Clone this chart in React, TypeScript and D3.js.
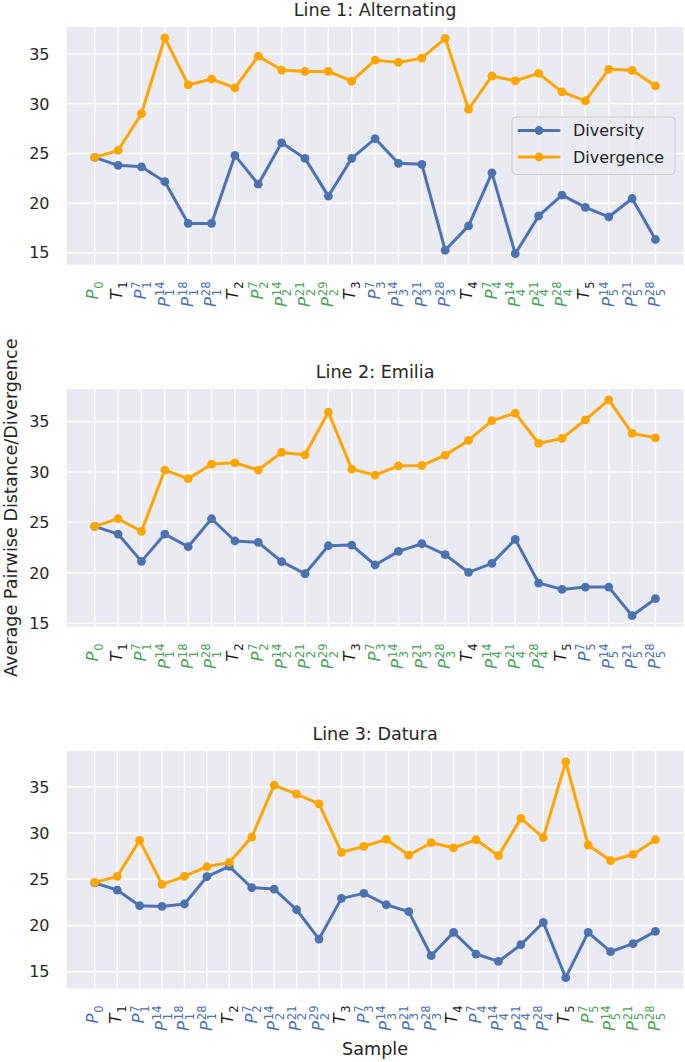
import React from 'react';
import * as d3 from 'd3';

const panelTitles = ['Line 1: Alternating', 'Line 2: Emilia', 'Line 3: Datura'];
const seriesNames = ['Diversity', 'Divergence'];
const yTicks = [15, 20, 25, 30, 35];

const samples1 = ['P0','T1','P7_1','P14_1','P18_1','P28_1','T2','P7_2','P14_2','P21_2','P29_2','T3','P7_3','P14_3','P21_3','P28_3','T4','P7_4','P14_4','P21_4','P28_4','T5','P14_5','P21_5','P28_5'];
const diversity1 = [24.6,23.8,23.65,22.15,17.95,17.95,24.8,21.9,26.07,24.5,20.7,24.5,26.5,24.0,23.9,15.25,17.7,23.05,14.9,18.7,20.8,19.56,18.6,20.46,16.33];
const divergence1 = [24.6,25.3,29.0,36.65,31.9,32.5,31.6,34.8,33.4,33.26,33.26,32.29,34.4,34.17,34.6,36.6,29.43,32.8,32.32,33.06,31.2,30.3,33.47,33.37,31.8];

const samples2 = ['P0','T1','P7_1','P14_1','P18_1','P28_1','T2','P7_2','P14_2','P21_2','P29_2','T3','P7_3','P14_3','P21_3','P28_3','T4','P14_4','P21_4','P28_4','T5','P7_5','P14_5','P21_5','P28_5'];
const diversity2 = [24.6,23.84,21.13,23.84,22.58,25.36,23.15,23.02,21.1,19.9,22.68,22.75,20.77,22.12,22.88,21.79,20.04,20.93,23.31,18.98,18.35,18.58,18.58,15.74,17.43];
const divergence2 = [24.6,25.36,24.1,30.19,29.33,30.78,30.91,30.19,31.94,31.7,35.94,30.29,29.69,30.61,30.64,31.67,33.13,35.09,35.84,32.83,33.33,35.17,37.16,33.83,33.39];

const samples3 = ['P0','T1','P7_1','P14_1','P18_1','P28_1','T2','P7_2','P14_2','P21_2','P29_2','T3','P7_3','P14_3','P21_3','P28_3','T4','P7_4','P14_4','P21_4','P28_4','T5','P7_5','P14_5','P21_5','P28_5'];
const diversity3 = [24.6,23.83,22.14,22.06,22.32,25.27,26.39,24.08,23.94,21.7,18.53,22.93,23.47,22.24,21.49,16.73,19.25,16.91,16.11,17.92,20.33,14.35,19.25,17.16,18.03,19.36];
const divergence3 = [24.66,25.3,29.2,24.44,25.3,26.35,26.82,29.56,35.18,34.2,33.16,27.9,28.55,29.3,27.6,28.95,28.4,29.27,27.54,31.58,29.49,37.7,28.7,27.0,27.68,29.27];

// label colour groups per panel (key = line/passage index after "_", 0 for P0)
const GREEN = '#4aa35a';
const BLUE = '#4C72B0';
const BLACK = '#1a1a1a';
const labelColors1: Record<string, string> = { '0': GREEN, '1': BLUE, '2': GREEN, '3': BLUE, '4': GREEN, '5': BLUE };
const labelColors2: Record<string, string> = { '0': GREEN, '1': GREEN, '2': GREEN, '3': GREEN, '4': GREEN, '5': BLUE };
const labelColors3: Record<string, string> = { '0': BLUE, '1': BLUE, '2': BLUE, '3': BLUE, '4': BLUE, '5': GREEN };

const panels = [
  { title: panelTitles[0], samples: samples1, div: diversity1, dvg: divergence1, colors: labelColors1, legend: true },
  { title: panelTitles[1], samples: samples2, div: diversity2, dvg: divergence2, colors: labelColors2, legend: false },
  { title: panelTitles[2], samples: samples3, div: diversity3, dvg: divergence3, colors: labelColors3, legend: false },
];

const W = 685, H = 1062;
const LEFT = 66.7, RIGHT = 683.5;
const TOPS = [27, 389, 751];
const PH = 237.5;
const FONT = '"DejaVu Sans", Verdana, sans-serif';
const TEXT = '#262626';
const LINE_COLORS = ['#4C72B0', '#FFA500'];
const TICK_FS = 16;
const XTICK_FS = 16.5;

let _ctx: CanvasRenderingContext2D | null = null;
function measure(text: string, size: number, italic = false): number {
  if (!_ctx) {
    const c = document.createElement('canvas');
    _ctx = c.getContext('2d');
  }
  if (!_ctx) return text.length * size * 0.6;
  _ctx.font = `${italic ? 'italic ' : ''}${size}px "DejaVu Sans"`;
  return _ctx.measureText(text).width;
}

function parseLabel(s: string) {
  const main = s[0];
  const rest = s.slice(1);
  if (rest.includes('_')) {
    const [sup, sub] = rest.split('_');
    return { main, sup, sub };
  }
  return { main, sup: '', sub: rest };
}

function TickLabel({ label, x, y, colors }: { label: string; x: number; y: number; colors: Record<string, string> }) {
  const { main, sup, sub } = parseLabel(label);
  const f = XTICK_FS;
  const sf = f * 0.7;
  const color = main === 'T' ? BLACK : colors[sub] ?? BLACK;
  const wMain = measure(main, f, true) + 0.8;
  const wScript = Math.max(measure(sup, sf), measure(sub, sf));
  const total = wMain + wScript;
  const supShift = 0.36 * f;
  const subShift = sup ? 0.28 * f : 0.3 * f;
  const top = sup ? -(supShift + sf * 0.729) : -(f * 0.729);
  const bottom = subShift;
  const b = -(top + bottom) / 2;
  const x0 = -total;
  return (
    <g transform={`translate(${x},${y}) rotate(-90)`} fill={color} fontFamily={FONT}>
      <text x={x0} y={b} fontSize={f} fontStyle="italic">{main}</text>
      {sup && <text x={x0 + wMain} y={b - supShift} fontSize={sf}>{sup}</text>}
      <text x={x0 + wMain} y={b + subShift} fontSize={sf}>{sub}</text>
    </g>
  );
}

function Panel({ p, top }: { p: typeof panels[number]; top: number }) {
  const n = p.samples.length;
  const x = d3.scaleLinear().domain([-0.05 * (n - 1), (n - 1) * 1.05]).range([LEFT, RIGHT]);
  const all = [...p.div, ...p.dvg];
  const mn = d3.min(all) as number, mx = d3.max(all) as number;
  const pad = (mx - mn) * 0.05;
  const y = d3.scaleLinear().domain([mn - pad, mx + pad]).range([top + PH, top]);
  const line = d3.line<number>().x((_, i) => x(i)).y((d) => y(d));
  const series = [p.div, p.dvg];
  return (
    <g>
      <rect x={LEFT} y={top} width={RIGHT - LEFT} height={PH} fill="#EAEAF2" />
      {p.samples.map((_, i) => (
        <line key={'gx' + i} x1={x(i)} x2={x(i)} y1={top} y2={top + PH} stroke="#fff" strokeWidth={1.4} />
      ))}
      {yTicks.map((t) => (
        <line key={'gy' + t} x1={LEFT} x2={RIGHT} y1={y(t)} y2={y(t)} stroke="#fff" strokeWidth={1.4} />
      ))}
      {yTicks.map((t) => (
        <text key={'ty' + t} x={49.5} y={y(t)} dy="0.36em" textAnchor="end" fontSize={TICK_FS} fontFamily={FONT} fill={TEXT}>{t}</text>
      ))}
      {p.samples.map((s, i) => (
        <TickLabel key={'tx' + i} label={s} x={x(i)} y={top + PH + 17} colors={p.colors} />
      ))}
      {series.map((vals, k) => (
        <g key={'s' + k}>
          <path d={line(vals) || ''} fill="none" stroke={LINE_COLORS[k]} strokeWidth={3} strokeLinejoin="round" strokeLinecap="round" />
          {vals.map((v, i) => (
            <circle key={i} cx={x(i)} cy={y(v)} r={4.4} fill={LINE_COLORS[k]} />
          ))}
        </g>
      ))}
      <text x={(LEFT + RIGHT) / 2} y={top - 11} textAnchor="middle" fontSize={17.6} fontFamily={FONT} fill={TEXT}>{p.title}</text>
      {p.legend && (
        <g>
          <rect x={512} y={117} width={163} height={57.5} rx={4} fill="#EAEAF2" fillOpacity={0.8} stroke="#cccccc" strokeWidth={1} />
          {seriesNames.map((name, k) => {
            const cy = 130.5 + k * 26.5;
            return (
              <g key={name}>
                <line x1={519} x2={559} y1={cy} y2={cy} stroke={LINE_COLORS[k]} strokeWidth={3} strokeLinecap="round" />
                <circle cx={539} cy={cy} r={4.4} fill={LINE_COLORS[k]} />
                <text x={573} y={cy} dy="0.36em" fontSize={16} fontFamily={FONT} fill={TEXT}>{name}</text>
              </g>
            );
          })}
        </g>
      )}
    </g>
  );
}

export default function App() {
  return (
    <svg width={W} height={H} viewBox={`0 0 ${W} ${H}`} style={{ position: 'absolute', left: 0, top: 0, background: '#fff' }}>
      <rect x={0} y={0} width={W} height={H} fill="#fff" />
      {panels.map((p, i) => (
        <Panel key={i} p={p} top={TOPS[i]} />
      ))}
      <text transform={`translate(17,${TOPS[1] + PH / 2}) rotate(-90)`} textAnchor="middle" fontSize={17.6} fontFamily={FONT} fill={TEXT}>Average Pairwise Distance/Divergence</text>
      <text x={(LEFT + RIGHT) / 2} y={1055} textAnchor="middle" fontSize={17.6} fontFamily={FONT} fill={TEXT}>Sample</text>
    </svg>
  );
}
